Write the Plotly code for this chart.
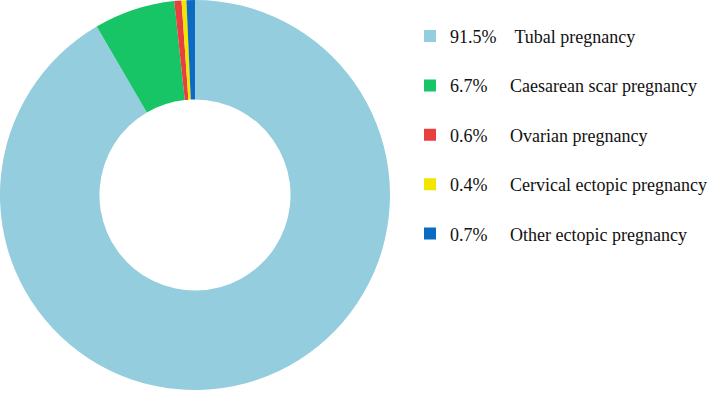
import plotly.graph_objects as go

categories = ["Tubal pregnancy", "Caesarean scar pregnancy", "Ovarian pregnancy",
              "Cervical ectopic pregnancy", "Other ectopic pregnancy"]
values = [91.5, 6.7, 0.6, 0.4, 0.7]
colors = ["#94CDDD", "#17C566", "#E8403F", "#F2E500", "#0B6AC2"]

fig = go.Figure()
fig.add_trace(go.Pie(
    labels=categories, values=values, hole=0.49, sort=False,
    direction="clockwise", rotation=0, textinfo="none",
    marker=dict(colors=colors, line=dict(width=0)),
    domain=dict(x=[0, 390 / 708], y=[6 / 396, 1.0]),
    showlegend=False, hoverinfo="label+percent",
))

for i, (c, v, col) in enumerate(zip(categories, values, colors)):
    sp = "\u00a0" * (4 if v >= 10 else 5)
    fig.add_trace(go.Scatter(
        x=[None], y=[None], mode="markers",
        marker=dict(symbol="square", size=12, color=col),
        name=f"{v}%{sp}{c}", legendgroup=f"g{i}", showlegend=True,
    ))

fig.update_layout(
    width=708, height=396,
    margin=dict(l=0, r=0, t=0, b=0, autoexpand=False),
    paper_bgcolor="white", plot_bgcolor="white",
    xaxis=dict(visible=False), yaxis=dict(visible=False),
    legend=dict(x=410 / 708, y=0.955, xanchor="left", yanchor="top",
                font=dict(family="Liberation Serif", size=18, color="#111111"),
                tracegroupgap=23, traceorder="grouped",
                bgcolor="rgba(0,0,0,0)"),
)
fig.write_html("out.html", config={"displayModeBar": False},
               post_script="document.body.style.margin='0';")
